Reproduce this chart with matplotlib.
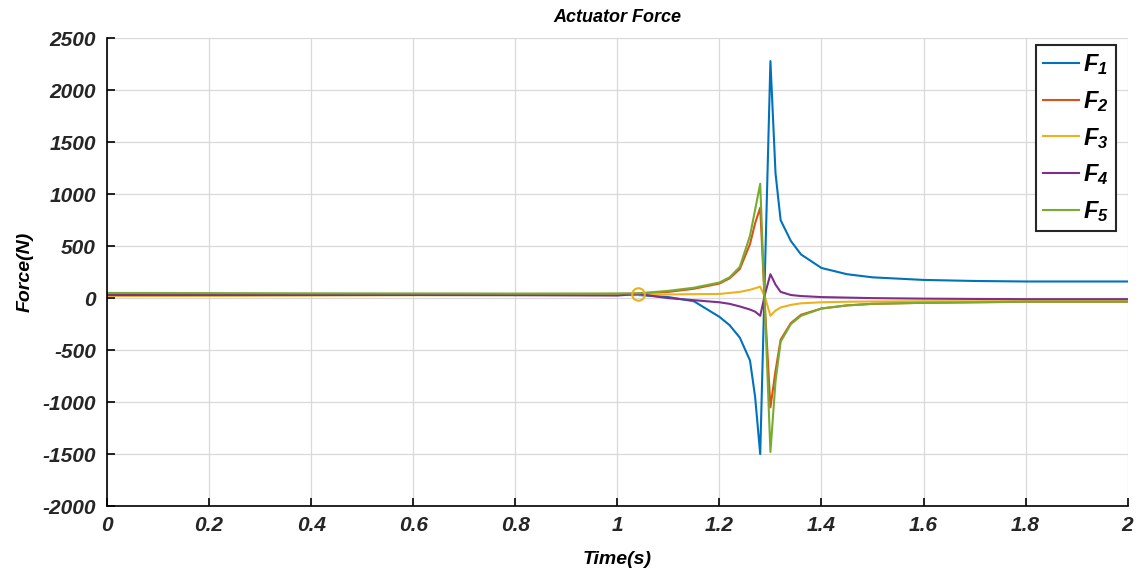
import matplotlib.pyplot as plt

plt.rcParams["font.family"] = "Liberation Sans"
plt.rcParams["axes.unicode_minus"] = False
plt.rcParams["mathtext.fontset"] = "custom"
plt.rcParams["mathtext.rm"] = "Liberation Sans:bold:italic"
plt.rcParams["mathtext.it"] = "Liberation Sans:bold:italic"

# time samples (s)
time = [0.0, 0.2, 0.4, 0.6, 0.8, 1.0, 1.04, 1.1, 1.15, 1.2, 1.22, 1.24, 1.26, 1.27, 1.28,
        1.29, 1.30, 1.31, 1.32, 1.34, 1.36, 1.4, 1.45, 1.5, 1.6, 1.7, 1.8, 2.0]

f1 = [40, 40, 38, 36, 34, 30, 30, 10, -30, -180, -260, -380, -600, -950, -1500,
      390, 2280, 1200, 750, 550, 420, 290, 230, 200, 175, 165, 160, 160]
f2 = [25, 28, 30, 32, 35, 40, 45, 60, 90, 140, 190, 280, 520, 720, 870,
      -150, -1050, -700, -400, -240, -160, -100, -70, -55, -45, -40, -35, -35]
f3 = [20, 22, 25, 28, 30, 30, 35, 35, 38, 40, 50, 60, 80, 95, 110,
      0, -170, -120, -90, -65, -50, -40, -35, -32, -30, -30, -30, -30]
f4 = [30, 30, 30, 30, 28, 25, 40, 0, -20, -40, -55, -80, -110, -130, -170,
      50, 230, 130, 60, 30, 20, 10, 5, 0, -5, -8, -10, -10]
f5 = [50, 48, 46, 45, 44, 45, 45, 70, 100, 150, 200, 300, 600, 850, 1100,
      -200, -1480, -800, -420, -250, -170, -100, -70, -55, -45, -40, -35, -35]

series = [("$F_1$", f1, "#0072BD"), ("$F_2$", f2, "#D95319"), ("$F_3$", f3, "#EDB120"),
          ("$F_4$", f4, "#7E2F8E"), ("$F_5$", f5, "#77AC30")]

fig = plt.figure(figsize=(11.39, 5.79), dpi=100)
ax = fig.add_axes([0.094, 0.126, 0.896, 0.808])

for label, values, color in series:
    ax.plot(time, values, color=color, linewidth=1.5, label=label)
# small ring seen near t = 1.04 s
ax.plot(time[6], f3[6], "o", markersize=9, markerfacecolor="none",
        markeredgecolor="#EDB120", markeredgewidth=1.5)

ax.set_xlim(0, 2)
ax.set_ylim(-2000, 2500)
ax.set_xticks([0, 0.2, 0.4, 0.6, 0.8, 1, 1.2, 1.4, 1.6, 1.8, 2])
ax.set_xticklabels(["0", "0.2", "0.4", "0.6", "0.8", "1", "1.2", "1.4", "1.6", "1.8", "2"])
ax.set_yticks(range(-2000, 2501, 500))
ax.tick_params(direction="in", length=6, width=1.2, labelsize=15)
ax.tick_params(axis="x", pad=7)
ax.tick_params(axis="y", pad=8)
for lbl in ax.get_xticklabels() + ax.get_yticklabels():
    lbl.set_fontweight("bold")
    lbl.set_fontstyle("italic")
    lbl.set_color("#262626")

ax.grid(True, color="#d9d9d9", linewidth=0.9)
ax.spines["top"].set_visible(False)
ax.spines["right"].set_visible(False)
ax.spines["left"].set_linewidth(1.2)
ax.spines["bottom"].set_linewidth(1.2)

ax.set_title("Actuator Force", fontsize=13, fontweight="bold", fontstyle="italic", pad=12)
ax.set_xlabel("Time(s)", fontsize=14, fontweight="bold", fontstyle="italic", labelpad=12)
ax.set_ylabel("Force(N)", fontsize=14, fontweight="bold", fontstyle="italic", labelpad=6)

leg = ax.legend(loc="upper right", bbox_to_anchor=(0.989, 0.985), borderaxespad=0,
                fontsize=17, handlelength=1.5, handletextpad=0.2, labelspacing=0.5,
                borderpad=0.3, fancybox=False, framealpha=1)
leg.get_frame().set_edgecolor("#262626")
leg.get_frame().set_linewidth(1.5)

fig.savefig("out.png", dpi=100)
